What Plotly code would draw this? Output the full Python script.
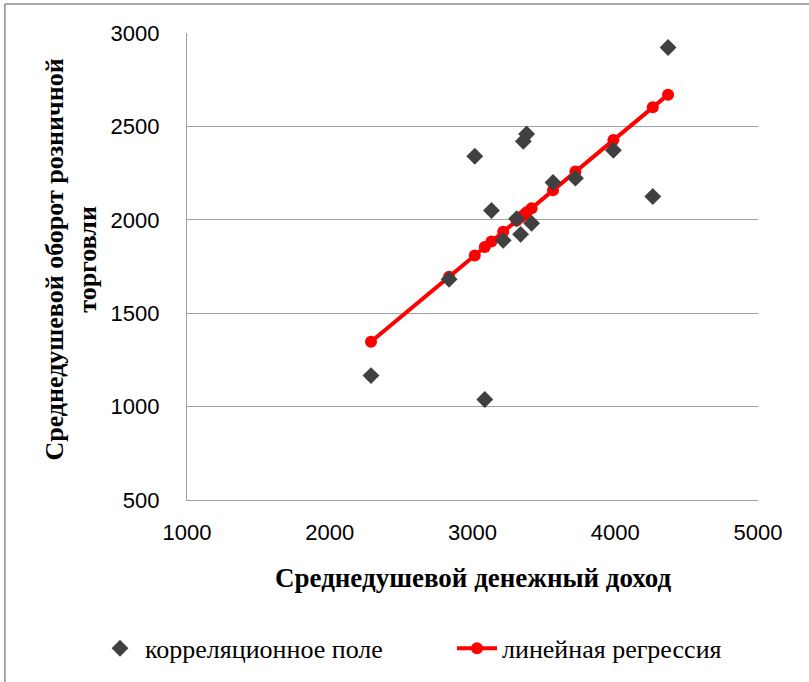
import plotly.graph_objects as go

# Correlation field (income, retail turnover)
income = [2289, 2836, 3016, 3086, 3133, 3215, 3309, 3337, 3356, 3379, 3414, 3564, 3721, 3987, 4263, 4370]
turnover = [1166, 1682, 2340, 1038, 2050, 1890, 2006, 1922, 2420, 2459, 1981, 2200, 2223, 2372, 2125, 2922]

# Linear regression values
reg_x = [2289, 2836, 3016, 3086, 3133, 3215, 3309, 3337, 3356, 3379, 3414, 3564, 3721, 3987, 4263, 4370]
reg_y = [1347, 1695, 1809, 1854, 1884, 1936, 1996, 2013, 2025, 2040, 2062, 2158, 2258, 2427, 2602, 2670]

x_ticks = [1000, 2000, 3000, 4000, 5000]
y_ticks = [500, 1000, 1500, 2000, 2500, 3000]

x_title = "Среднедушевой денежный доход"
y_title = "Среднедушевой оборот розничной<br>торговли"
names = ["корреляционное поле", "линейная регрессия"]

GRID = "#a0a0a0"
SERIF = "Liberation Serif"
SANS = "Liberation Sans"

fig = go.Figure()
fig.add_trace(go.Scatter(
    x=reg_x, y=reg_y, mode="lines+markers", name=names[1], legendrank=2,
    line=dict(color="#ff0000", width=4),
    marker=dict(symbol="circle", size=12, color="#ff0000"),
))
fig.add_trace(go.Scatter(
    x=income, y=turnover, mode="markers", name=names[0], legendrank=1,
    marker=dict(symbol="diamond", size=13, color="#404040"),
))

fig.update_layout(
    width=809, height=682,
    margin=dict(l=187, r=51, t=33, b=181),
    paper_bgcolor="white", plot_bgcolor="white",
    font=dict(family=SERIF, color="#000000"),
    showlegend=True,
    legend=dict(orientation="h", x=-0.152, xanchor="left", y=-0.315, yanchor="middle",
                font=dict(family=SERIF, size=26, color="#000000"),
                itemwidth=40, entrywidth=302),
    xaxis=dict(range=[1000, 5000], tickvals=x_ticks, showgrid=False, zeroline=False,
               showline=True, linecolor=GRID, linewidth=1.3, ticks="",
               ticklabelstandoff=12,
               tickfont=dict(family=SANS, size=22, color="#000000")),
    yaxis=dict(range=[500, 3000], tickvals=y_ticks, showgrid=True, gridcolor=GRID, gridwidth=1.3,
               zeroline=False, showline=True, linecolor=GRID, linewidth=1.3, ticks="",
               ticklabelstandoff=22,
               tickfont=dict(family=SANS, size=22, color="#000000")),
    annotations=[
        dict(text="<b>%s</b>" % x_title, xref="paper", yref="paper", x=0.501, y=-0.167,
             xanchor="center", yanchor="middle", showarrow=False,
             font=dict(family=SERIF, size=27, color="#000000")),
        dict(text="<b>%s</b>" % y_title, xref="paper", yref="paper", x=-0.203, y=0.515,
             xanchor="center", yanchor="middle", showarrow=False, textangle=-90,
             font=dict(family=SERIF, size=26, color="#000000")),
    ],
    shapes=[
        dict(type="line", xref="paper", yref="paper", x0=-0.319, x1=1.2, y0=1.062, y1=1.062,
             line=dict(color="#8c8c8c", width=1.5)),
        dict(type="line", xref="paper", yref="paper", x0=-0.319, x1=-0.319, y0=1.062, y1=-0.5,
             line=dict(color="#8c8c8c", width=1.5)),
    ],
)

fig.write_html("out.html", config={"displayModeBar": False},
               post_script="document.body.style.margin='0';")
